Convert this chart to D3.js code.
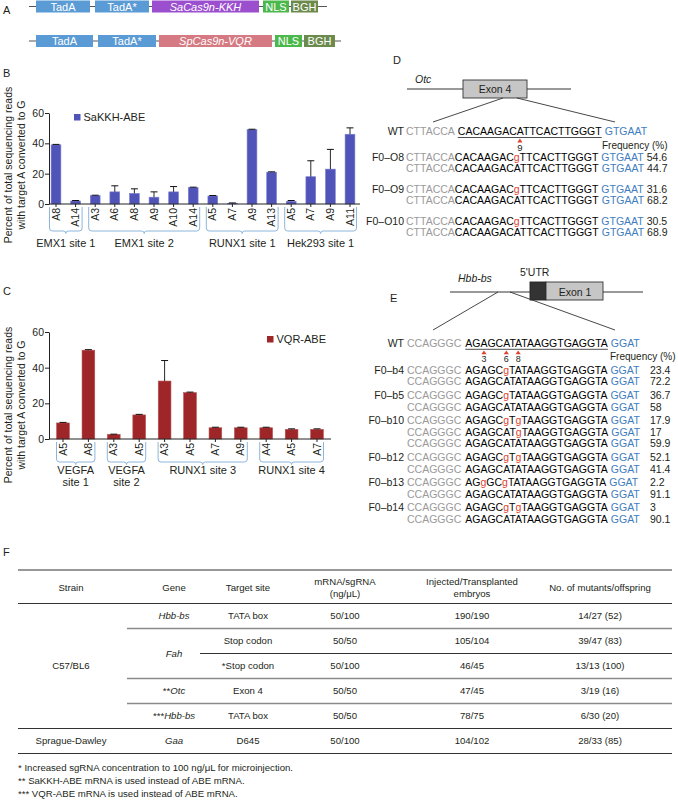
<!DOCTYPE html>
<html><head><meta charset="utf-8">
<script src="https://cdn.jsdelivr.net/npm/d3@7"></script>
<style>body{margin:0;background:#fff}svg{display:block;font-family:"Liberation Sans",Arial,sans-serif}</style>
</head><body>
<script>
// ---------- DATA ----------
const construct1 = ["TadA","TadA*","SaCas9n-KKH","NLS","BGH"];
const construct2 = ["TadA","TadA*","SpCas9n-VQR","NLS","BGH"];

const bSites = ["EMX1 site 1","EMX1 site 2","RUNX1 site 1","Hek293 site 1"];
const bPositions = ["A8","A14","A3","A6","A8","A9","A10","A14","A5","A7","A9","A13","A5","A7","A9","A11"];
const bSiteIndex = [0,0,1,1,1,1,1,1,2,2,2,2,3,3,3,3];
const bValues = [39,2,5.5,8,7,4.5,8,10.8,5.3,0.5,49,21,1.8,18,23,46];
const bErrors = [0.3,0.3,0.3,4,3,3.5,3.5,0.3,0.3,0.2,0.3,0.2,0.5,10.5,13,4.2];

const cSites = [["VEGFA","site 1"],["VEGFA","site 2"],["RUNX1 site 3"],["RUNX1 site 4"]];
const cPositions = ["A5","A8","A3","A5","A3","A5","A7","A9","A4","A5","A7"];
const cSiteIndex = [0,0,1,1,2,2,2,2,3,3,3];
const cValues = [9,49.8,2.6,13.5,32.5,26,6.3,6.3,6.3,5.4,5.4];
const cErrors = [0.3,0.3,0.1,0.3,11.5,0.3,0.3,0.3,0.3,0.3,0.3];
const yTicks = [0,20,40,60];

const otcWT = ["CTTACCA","CACAAGACATTCACTTGGGT","GTGAAT"];
const otcMutPos = [9];
const otcFounders = ["F0–O8","F0–O9","F0–O10"];
const otcAlleles = [["CACAAGACgTTCACTTGGGT","CACAAGACATTCACTTGGGT"],
                    ["CACAAGACgTTCACTTGGGT","CACAAGACATTCACTTGGGT"],
                    ["CACAAGACgTTCACTTGGGT","CACAAGACATTCACTTGGGT"]];
const otcFreq = [[54.6,44.7],[31.6,68.2],[30.5,68.9]];

const hbbWT = ["CCAGGGC","AGAGCATATAAGGTGAGGTA","GGAT"];
const hbbMutPos = [3,6,8];
const hbbFounders = ["F0–b4","F0–b5","F0–b10","F0–b12","F0–b13","F0–b14"];
const hbbAlleles = [["AGAGCgTATAAGGTGAGGTA","AGAGCATATAAGGTGAGGTA"],
                    ["AGAGCgTATAAGGTGAGGTA","AGAGCATATAAGGTGAGGTA"],
                    ["AGAGCgTgTAAGGTGAGGTA","AGAGCATgTAAGGTGAGGTA","AGAGCATATAAGGTGAGGTA"],
                    ["AGAGCgTgTAAGGTGAGGTA","AGAGCATATAAGGTGAGGTA"],
                    ["AGgGCgTATAAGGTGAGGTA","AGAGCATATAAGGTGAGGTA"],
                    ["AGAGCgTgTAAGGTGAGGTA","AGAGCATATAAGGTGAGGTA"]];
const hbbFreq = [[23.4,72.2],[36.7,58],[17.9,17,59.9],[52.1,41.4],[2.2,91.1],[3,90.1]];

const tableHeader = [["Strain"],["Gene"],["Target site"],["mRNA/sgRNA","(ng/μL)"],["Injected/Transplanted","embryos"],["No. of mutants/offspring"]];
const tableStrain = ["C57/BL6","Sprague-Dawley"];
const tableGene = ["Hbb-bs","Fah","**Otc","***Hbb-bs","Gaa"];
const tableTarget = ["TATA box","Stop codon","*Stop codon","Exon 4","TATA box","D645"];
const tableDose = ["50/100","50/50","50/100","50/50","50/50","50/100"];
const tableEmbryos = ["190/190","105/104","46/45","47/45","78/75","104/102"];
const tableMutants = ["14/27 (52)","39/47 (83)","13/13 (100)","3/19 (16)","6/30 (20)","28/33 (85)"];
const footnotes = ["* Increased sgRNA concentration to 100 ng/μL for microinjection.",
                   "** SaKKH-ABE mRNA is used instead of ABE mRNA.",
                   "*** VQR-ABE mRNA is used instead of ABE mRNA."];

// ---------- DRAW ----------
const W=678,H=800;
const svg=d3.select("body").append("svg").attr("width",W).attr("height",H);
const FONT='"Liberation Sans",Arial,sans-serif';
const TXT="#231f20";

function label(t,x,y){svg.append("text").attr("x",x).attr("y",y).attr("font-size",11).attr("fill",TXT).text(t);}

// Panel A
label("A",3,14);
function construct(names,y,xs,colors,lineEnd){
  const g=svg.append("g");
  g.append("line").attr("x1",29).attr("x2",lineEnd).attr("y1",y).attr("y2",y).attr("stroke","#555").attr("stroke-width",1.2);
  names.forEach((n,i)=>{
    g.append("rect").attr("x",xs[i][0]).attr("y",y-6).attr("width",xs[i][1]-xs[i][0]).attr("height",12).attr("fill",colors[i]);
    g.append("text").attr("x",(xs[i][0]+xs[i][1])/2).attr("y",y+4).attr("text-anchor","middle")
      .attr("font-size",11).attr("fill","#fff").attr("font-style",i===2?"italic":"normal").text(n);
  });
}
construct(construct1,6.5,[[36,90],[95,149],[152,259],[263,289],[291,318]],
  ["#5b9bd5","#5b9bd5","#9b4fcf","#4cb84c","#6b8a4c"],327);
construct(construct2,41,[[36,93],[98,156],[159,272],[275,302],[304,335]],
  ["#5b9bd5","#5b9bd5","#d57a82","#4cb84c","#6b8a4c"],341);

// bar chart helper
function barChart(o){
  const g=svg.append("g");
  const x=d3.scaleBand().domain(d3.range(o.positions.length)).range(o.xr).paddingInner(0.5).paddingOuter(0.25);
  const y=d3.scaleLinear().domain([0,60]).range(o.yr);
  const ax=g.append("g").attr("transform",`translate(${o.axisX},0)`).call(d3.axisLeft(y).tickValues(yTicks).tickSize(4).tickSizeOuter(0));
  ax.select(".domain").attr("stroke","#222");
  ax.selectAll(".tick line").attr("stroke","#222");
  ax.selectAll(".tick text").attr("font-size",10.5).attr("font-family",FONT).attr("fill",TXT).attr("x",-5);
  g.selectAll("rect.bar").data(o.values).join("rect").attr("class","bar")
    .attr("x",(d,i)=>x(i)).attr("width",x.bandwidth()).attr("y",d=>y(d)).attr("height",d=>y(0)-y(d))
    .attr("fill",o.color).attr("stroke",o.stroke).attr("stroke-width",0.6);
  o.values.forEach((v,i)=>{
    const cx=x(i)+x.bandwidth()/2, top=y(v+o.errors[i]);
    g.append("line").attr("x1",cx).attr("x2",cx).attr("y1",y(v)).attr("y2",top).attr("stroke","#111").attr("stroke-width",0.9);
    g.append("line").attr("x1",cx-3.5).attr("x2",cx+3.5).attr("y1",top).attr("y2",top).attr("stroke","#111").attr("stroke-width",1);
  });
  const xa=g.append("g").attr("transform",`translate(0,${o.yr[0]})`)
    .call(d3.axisBottom(x).tickSize(3).tickSizeOuter(0).tickFormat(i=>o.positions[i]));
  xa.select(".domain").attr("stroke","#222").attr("d",`M${o.axisX},0H${o.xEnd}`);
  xa.selectAll(".tick line").attr("stroke","#222");
  xa.selectAll(".tick text").attr("font-size",10.5).attr("font-family",FONT).attr("fill",TXT)
    .attr("transform","rotate(-90)").attr("text-anchor","end").attr("x",-4).attr("y",0).attr("dy","0.35em");
  const nS=d3.max(o.siteIndex)+1;
  for(let s=0;s<nS;s++){
    const idx=o.siteIndex.map((d,i)=>d===s?i:-1).filter(i=>i>=0);
    const x0=x(idx[0])+x.bandwidth()/2-6.5, x1=x(idx[idx.length-1])+x.bandwidth()/2+6.5, xm=(x0+x1)/2;
    const yt=o.yr[0]+3, yb=o.bracketY;
    g.append("path").attr("d",`M${x0},${yt}V${yb-3}Q${x0},${yb} ${x0+3},${yb}H${xm-2.5}Q${xm},${yb} ${xm},${yb+2.5}Q${xm},${yb} ${xm+2.5},${yb}H${x1-3}Q${x1},${yb} ${x1},${yb-3}V${yt}`)
      .attr("fill","none").attr("stroke","#8db6dd").attr("stroke-width",1);
    const lines=Array.isArray(o.sites[s])?o.sites[s]:[o.sites[s]];
    lines.forEach((t,k)=>g.append("text").attr("x",xm).attr("y",o.siteY+k*12).attr("text-anchor","middle")
      .attr("font-size",11).attr("fill",TXT).text(t));
  }
  g.append("rect").attr("x",o.legX).attr("y",o.legY-3).attr("width",6.5).attr("height",6.5).attr("fill",o.color);
  g.append("text").attr("x",o.legX+9.5).attr("y",o.legY+3.8).attr("font-size",11).attr("fill",TXT).text(o.legend);
  const yl=g.append("text").attr("transform",`translate(12,${o.ylabY}) rotate(-90)`).attr("text-anchor","middle").attr("font-size",10.5).attr("fill",TXT);
  yl.append("tspan").attr("x",0).attr("y",0).text("Percent of total sequencing reads");
  yl.append("tspan").attr("x",0).attr("y",12.5).text("with target A converted to G");
}

label("B",3,77);
barChart({positions:bPositions,values:bValues,errors:bErrors,siteIndex:bSiteIndex,sites:bSites,
  xr:[46.2,359.8],yr:[204,113],axisX:49,xEnd:360,color:"#5053b8",stroke:"#7d80d0",
  bracketY:231,siteY:247,legX:74,legY:117,legend:"SaKKH-ABE",ylabY:165});

label("C",3,295);
barChart({positions:cPositions,values:cValues,errors:cErrors,siteIndex:cSiteIndex,sites:cSites,
  xr:[50.3,329.7],yr:[439,332],axisX:49,xEnd:331,color:"#9e2628",stroke:"#b85050",
  bracketY:462,siteY:474,legX:267,legY:339,legend:"VQR-ABE",ylabY:405});

// sequence helpers
const GRAY="#9a9a9a", BLUE="#3f7dc0", RED="#e0422f";
const SEQF=10.5;
function seqText(x,y,t,fill,extra){
  const n=svg.append("text").attr("x",x).attr("y",y).attr("font-size",SEQF).attr("fill",fill).text(t);
  if(extra) extra(n);
  return n;
}
function drawRow(y,name,pre,core,post,freq,opt){
  if(name) seqText(opt.nameEnd,y,name,TXT,n=>n.attr("text-anchor","end"));
  let cx=opt.seqX;
  const p=seqText(cx,y,pre,GRAY); cx+=p.node().getComputedTextLength()+opt.gap1;
  const coreStart=cx;
  const runs=[]; for(const ch of core){const m=ch===ch.toLowerCase(); if(runs.length&&runs[runs.length-1].m===m) runs[runs.length-1].t+=ch; else runs.push({t:ch,m});}
  runs.forEach(r=>{const n=seqText(cx,y,r.t,r.m?RED:"#000"); cx+=n.node().getComputedTextLength();});
  const coreEnd=cx;
  cx+=opt.gap2;
  const b=seqText(cx,y,post,BLUE); cx+=b.node().getComputedTextLength();
  if(freq!==undefined) seqText(opt.freqX!==undefined?opt.freqX:cx+3,y,String(freq),TXT);
  return {coreStart,coreEnd};
}
function charCenter(x0,str,i){
  const t=svg.append("text").attr("font-size",SEQF).text(str);
  const n=t.node(); const a=n.getSubStringLength(0,i-1), w=n.getSubStringLength(i-1,1); t.remove();
  return x0+a+w/2;
}

// Panel D
label("D",393,64);
svg.append("text").attr("x",415).attr("y",83).attr("font-size",10.5).attr("font-style","italic").attr("fill",TXT).text("Otc");
svg.append("line").attr("x1",407).attr("x2",571).attr("y1",89).attr("y2",89).attr("stroke","#777").attr("stroke-width",1.3);
svg.append("rect").attr("x",463).attr("y",80).attr("width",64).attr("height",18).attr("fill","#c6c6c6").attr("stroke","#333").attr("stroke-width",0.9);
svg.append("text").attr("x",495).attr("y",93).attr("text-anchor","middle").attr("font-size",10.5).attr("fill",TXT).text("Exon 4");
svg.append("line").attr("x1",503).attr("y1",98).attr("x2",433).attr("y2",122).attr("stroke","#333").attr("stroke-width",0.9);
svg.append("line").attr("x1",517).attr("y1",98).attr("x2",615).attr("y2",122).attr("stroke","#333").attr("stroke-width",0.9);
const dOpt={nameEnd:404,seqX:406,gap1:3,gap2:3};
const dWT=drawRow(135,"WT",otcWT[0],otcWT[1],otcWT[2],undefined,dOpt);
svg.append("line").attr("x1",dWT.coreStart).attr("x2",dWT.coreEnd).attr("y1",137.5).attr("y2",137.5).attr("stroke","#222").attr("stroke-width",0.8);
otcMutPos.forEach(p=>{
  const cx=charCenter(dWT.coreStart,otcWT[1],p);
  svg.append("path").attr("d",`M${cx-2.6},${142.5}L${cx+2.6},${142.5}L${cx},${138.6}Z`).attr("fill",RED);
  svg.append("text").attr("x",cx).attr("y",150.5).attr("text-anchor","middle").attr("font-size",9.5).attr("fill",TXT).text(p);
});
svg.append("text").attr("x",602).attr("y",148.5).attr("font-size",10).attr("fill",TXT).text("Frequency (%)");
const dOpt2={nameEnd:404,seqX:406,gap1:0,gap2:3};
const dGroupY=[160.5,192.5,224.5];
otcFounders.forEach((f,gi)=>{
  otcAlleles[gi].forEach((al,k)=>drawRow(dGroupY[gi]+k*11.5,k===0?f:null,otcWT[0],al,otcWT[2],otcFreq[gi][k],dOpt2));
});

// Panel E
label("E",390,302);
svg.append("text").attr("x",458).attr("y",282).attr("font-size",10.5).attr("font-style","italic").attr("fill",TXT).text("Hbb-bs");
svg.append("text").attr("x",520).attr("y",276).attr("font-size",10.5).attr("fill",TXT).text("5'UTR");
svg.append("line").attr("x1",450).attr("x2",643).attr("y1",292).attr("y2",292).attr("stroke","#777").attr("stroke-width",1.3);
svg.append("rect").attr("x",530).attr("y",282).attr("width",16).attr("height",18).attr("fill","#333").attr("stroke","#222").attr("stroke-width",0.9);
svg.append("rect").attr("x",546).attr("y",282).attr("width",57).attr("height",18).attr("fill","#c6c6c6").attr("stroke","#333").attr("stroke-width",0.9);
svg.append("text").attr("x",575).attr("y",295.5).attr("text-anchor","middle").attr("font-size",10.5).attr("fill",TXT).text("Exon 1");
svg.append("line").attr("x1",498).attr("y1",292).attr("x2",433).attr("y2",330).attr("stroke","#333").attr("stroke-width",0.9);
svg.append("line").attr("x1",510).attr("y1",292).attr("x2",615).attr("y2",330).attr("stroke","#333").attr("stroke-width",0.9);
const eOpt={nameEnd:404,seqX:407,gap1:4,gap2:3,freqX:650};
const eWT=drawRow(347,"WT",hbbWT[0],hbbWT[1],hbbWT[2],undefined,{nameEnd:404,seqX:407,gap1:4,gap2:3});
svg.append("line").attr("x1",eWT.coreStart).attr("x2",eWT.coreEnd).attr("y1",349.3).attr("y2",349.3).attr("stroke","#222").attr("stroke-width",0.8);
hbbMutPos.forEach(p=>{
  const cx=charCenter(eWT.coreStart,hbbWT[1],p);
  svg.append("path").attr("d",`M${cx-2.6},${354.2}L${cx+2.6},${354.2}L${cx},${350.5}Z`).attr("fill",RED);
  svg.append("text").attr("x",cx).attr("y",361.5).attr("text-anchor","middle").attr("font-size",9).attr("fill",TXT).text(p);
});
svg.append("text").attr("x",610).attr("y",360).attr("font-size",10).attr("fill",TXT).text("Frequency (%)");
let ey=373.8;
hbbFounders.forEach((f,gi)=>{
  hbbAlleles[gi].forEach((al,k)=>{drawRow(ey,k===0?f:null,hbbWT[0],al,hbbWT[2],hbbFreq[gi][k],eOpt); ey+=11.6;});
  ey+=2;
});

// Panel F table
label("F",3,556);
const TF=9.6;
const colX=[71,174,248,345,472,600];
const tbl=svg.append("g").attr("font-size",TF).attr("fill",TXT);
function tline(x1,y,c,w){tbl.append("line").attr("x1",x1).attr("x2",672).attr("y1",y).attr("y2",y).attr("stroke",c).attr("stroke-width",w);}
tline(18,570,"#333",1.2); tline(18,603.5,"#333",1.2);
tableHeader.forEach((h,i)=>{
  h.forEach((t,k)=>tbl.append("text").attr("x",colX[i]).attr("y",h.length===1?590.5:584.5+k*12).attr("text-anchor","middle").text(t));
});
const rowY=[616,641,666,691,716,741];
function ctext(x,y,t,it){const n=tbl.append("text").attr("x",x).attr("y",y+3.4).attr("text-anchor","middle").text(t); if(it) n.attr("font-style","italic"); return n;}
rowY.forEach((y,i)=>{
  ctext(colX[2],y,tableTarget[i]); ctext(colX[3],y,tableDose[i]); ctext(colX[4],y,tableEmbryos[i]); ctext(colX[5],y,tableMutants[i]);
});
function geneText(y,t){
  const m=t.match(/^(\**)(.*)$/);
  const n=tbl.append("text").attr("x",colX[1]).attr("y",y+3.4).attr("text-anchor","middle");
  if(m[1]) n.append("tspan").text(m[1]);
  n.append("tspan").attr("font-style","italic").text(m[2]);
}
geneText(rowY[0],tableGene[0]);
geneText((rowY[1]+rowY[2])/2,tableGene[1]);
geneText(rowY[3],tableGene[2]);
geneText(rowY[4],tableGene[3]);
geneText(rowY[5],tableGene[4]);
ctext(colX[0],rowY[2],tableStrain[0]);
ctext(colX[0],rowY[5],tableStrain[1]);
tline(127,628.5,"#8a8a8a",1.5);
tline(200,653.5,"#333",1);
tline(127,678.5,"#8a8a8a",1.5);
tline(127,703.5,"#8a8a8a",1.5);
tline(18,728.5,"#333",1.2);
tline(18,753.5,"#333",1.2);
footnotes.forEach((t,i)=>tbl.append("text").attr("x",18).attr("y",771+i*13).text(t));
</script>
</body></html>
